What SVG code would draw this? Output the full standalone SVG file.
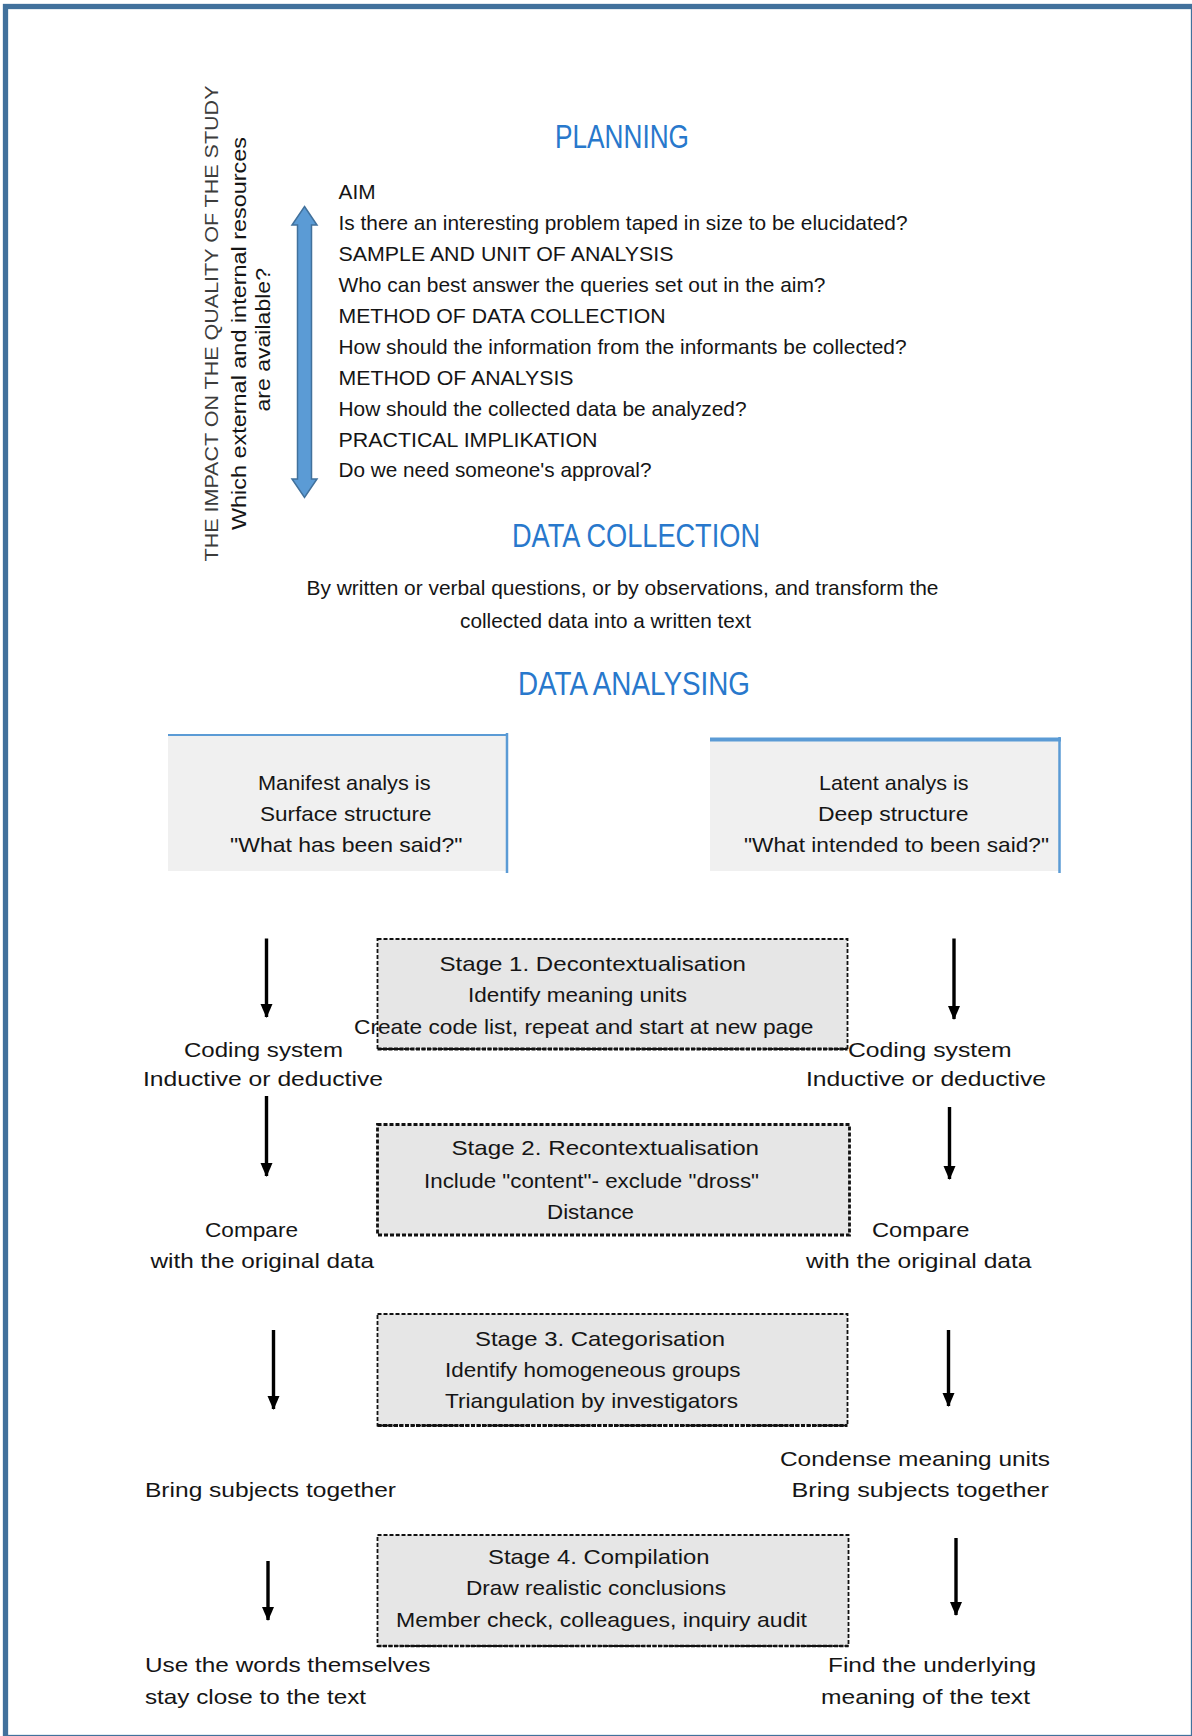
<svg xmlns="http://www.w3.org/2000/svg" width="1192" height="1736" viewBox="0 0 1192 1736">
  <defs>
    <style>
      .t { font-family: "Liberation Sans", Arial, sans-serif; font-size: 21px; fill: #151515; }
      .lbl { font-family: "Liberation Sans", Arial, sans-serif; font-size: 21px; fill: #151515; }
      .head { font-family: "Liberation Sans Narrow", "Liberation Sans", Arial, sans-serif; font-size: 33px; fill: #2878CC; }
      .side { font-family: "Liberation Sans", Arial, sans-serif; font-size: 18.5px; fill: #3c3c3c; }
      .side2 { font-family: "Liberation Sans", Arial, sans-serif; font-size: 21px; fill: #151515; }
      .anbox { fill: #F0F0F0; }
      .anedge { stroke: #5B9BD5; fill: none; }
      .stage { fill: #E6E6E6; stroke: #111; stroke-width: 1.8; stroke-dasharray: 4 2; }
      .stageheavy { stroke: #111; stroke-width: 3.2; stroke-dasharray: 4 1.5; fill: none; }
      .arrow { stroke: #000; stroke-width: 3.4; fill: none; marker-end: url(#head); }
    </style>
    <marker id="head" markerUnits="userSpaceOnUse" markerWidth="14" markerHeight="14" viewBox="0 0 14 13" refX="13" refY="6.5" orient="auto">
      <path d="M0,0.5 L14,6.5 L0,12.5 z" fill="#000"/>
    </marker>
  </defs>

  <rect width="1192" height="1736" fill="#fff"/>

  <!-- page frame -->
  <rect id="frame" x="5.5" y="6.5" width="1188" height="1731" fill="none" stroke="#41719C" stroke-width="5.3"/>

  <!-- planning heading and list -->
  <g id="planning-title">
    <text class="head" x="555" y="148" textLength="134" lengthAdjust="spacingAndGlyphs">PLANNING</text>
  </g>

  <g id="planning-list" class="t">
    <text x="338.5" y="199.3" textLength="37" lengthAdjust="spacingAndGlyphs">AIM</text>
    <text x="338.5" y="230.2" textLength="569" lengthAdjust="spacingAndGlyphs">Is there an interesting problem taped in size to be elucidated?</text>
    <text x="338.5" y="261.1" textLength="335" lengthAdjust="spacingAndGlyphs">SAMPLE AND UNIT OF ANALYSIS</text>
    <text x="338.5" y="292" textLength="487" lengthAdjust="spacingAndGlyphs">Who can best answer the queries set out in the aim?</text>
    <text x="338.5" y="322.9" textLength="327" lengthAdjust="spacingAndGlyphs">METHOD OF DATA COLLECTION</text>
    <text x="338.5" y="353.8" textLength="568" lengthAdjust="spacingAndGlyphs">How should the information from the informants be collected?</text>
    <text x="338.5" y="384.7" textLength="235" lengthAdjust="spacingAndGlyphs">METHOD OF ANALYSIS</text>
    <text x="338.5" y="415.6" textLength="408" lengthAdjust="spacingAndGlyphs">How should the collected data be analyzed?</text>
    <text x="338.5" y="446.5" textLength="259" lengthAdjust="spacingAndGlyphs">PRACTICAL  IMPLIKATION</text>
    <text x="338.5" y="477.4" textLength="313" lengthAdjust="spacingAndGlyphs">Do we need someone's approval?</text>
  </g>

  <!-- vertical notes beside the list -->
  <g id="side-notes">
    <text class="side" transform="translate(218,561.5) rotate(-90)" x="0" y="0" textLength="476" lengthAdjust="spacingAndGlyphs">THE IMPACT  ON THE QUALITY OF THE STUDY</text>
    <text class="side2" transform="translate(246,530) rotate(-90)" x="0" y="0" textLength="393" lengthAdjust="spacingAndGlyphs">Which external and internal resources</text>
    <text class="side2" transform="translate(270,411.5) rotate(-90)" x="0" y="0" textLength="143.5" lengthAdjust="spacingAndGlyphs">are available?</text>
  </g>

  <!-- double-headed block arrow -->
  <g id="scope-arrow">
    <polygon points="304.5,206.5 317,225 311.5,225 311.5,479 317,479 304.5,497.5 292,479 297.5,479 297.5,225 292,225" fill="#5B9BD5" stroke="#41719C" stroke-width="1.5" stroke-linejoin="miter"/>
  </g>

  <!-- data collection -->
  <g id="data-collection">
    <text class="head" x="512" y="546.5" textLength="248" lengthAdjust="spacingAndGlyphs">DATA COLLECTION</text>
    <text class="t" x="306.5" y="595" textLength="632" lengthAdjust="spacingAndGlyphs">By written or verbal questions, or by observations, and transform the</text>
    <text class="t" x="460" y="627.5" textLength="291" lengthAdjust="spacingAndGlyphs">collected data into a written text</text>
  </g>

  <!-- data analysing -->
  <g id="data-analysing">
    <text class="head" x="518" y="695" textLength="232" lengthAdjust="spacingAndGlyphs">DATA ANALYSING</text>
  </g>

  <!-- analysis types -->
  <g id="manifest">
    <rect class="anbox" x="168" y="734" width="340" height="137"/>
    <line class="anedge" x1="168" y1="735" x2="507" y2="735" stroke-width="2"/>
    <line class="anedge" x1="507" y1="733" x2="507" y2="873" stroke-width="2.5"/>
    <text class="lbl" x="258" y="790" textLength="172.5" lengthAdjust="spacingAndGlyphs">Manifest analys is</text>
    <text class="lbl" x="260" y="821" textLength="171.5" lengthAdjust="spacingAndGlyphs">Surface structure</text>
    <text class="lbl" x="230" y="852" textLength="232.5" lengthAdjust="spacingAndGlyphs">"What has been said?"</text>
  </g>

  <g id="latent">
    <rect class="anbox" x="710" y="738" width="350" height="133"/>
    <line class="anedge" x1="710" y1="739.5" x2="1061" y2="739.5" stroke-width="4"/>
    <line class="anedge" x1="1059.5" y1="737" x2="1059.5" y2="873" stroke-width="2.5"/>
    <text class="lbl" x="819" y="790" textLength="149.5" lengthAdjust="spacingAndGlyphs">Latent analys is</text>
    <text class="lbl" x="818" y="821" textLength="150.5" lengthAdjust="spacingAndGlyphs">Deep structure</text>
    <text class="lbl" x="744" y="852" textLength="305" lengthAdjust="spacingAndGlyphs">"What intended to been said?"</text>
  </g>

  <!-- stages -->
  <g id="stage-1">
    <rect class="stage" x="377.5" y="939" width="470" height="110"/>
    <line class="stageheavy" x1="377.5" y1="1049" x2="847.5" y2="1049"/>
    <text class="lbl" x="439.5" y="970.5" textLength="306.5" lengthAdjust="spacingAndGlyphs">Stage  1. Decontextualisation</text>
    <text class="lbl" x="468" y="1001.5" textLength="219" lengthAdjust="spacingAndGlyphs">Identify meaning units</text>
    <text class="lbl" x="354" y="1033.5" textLength="459.5" lengthAdjust="spacingAndGlyphs">Create code list, repeat and start at new page</text>
  </g>

  <g id="stage-2">
    <rect class="stage" x="377.5" y="1124.5" width="472" height="110.5" style="stroke-width:2.8"/>
    <text class="lbl" x="451.5" y="1155" textLength="307.5" lengthAdjust="spacingAndGlyphs">Stage  2. Recontextualisation</text>
    <text class="lbl" x="424" y="1187.5" textLength="335" lengthAdjust="spacingAndGlyphs">Include "content"- exclude "dross"</text>
    <text class="lbl" x="547" y="1218.5" textLength="87" lengthAdjust="spacingAndGlyphs">Distance</text>
  </g>

  <g id="stage-3">
    <rect class="stage" x="377.5" y="1314" width="470" height="111.5"/>
    <line class="stageheavy" x1="377.5" y1="1425.5" x2="847.5" y2="1425.5"/>
    <text class="lbl" x="475" y="1345.5" textLength="250" lengthAdjust="spacingAndGlyphs">Stage  3. Categorisation</text>
    <text class="lbl" x="445" y="1376.5" textLength="295.5" lengthAdjust="spacingAndGlyphs">Identify homogeneous  groups</text>
    <text class="lbl" x="445" y="1407.5" textLength="293" lengthAdjust="spacingAndGlyphs">Triangulation by investigators</text>
  </g>

  <g id="stage-4">
    <rect class="stage" x="377.5" y="1535" width="471" height="111"/>
    <line class="stageheavy" x1="377.5" y1="1646" x2="848.5" y2="1646" style="stroke-width:2.4"/>
    <text class="lbl" x="488" y="1563.5" textLength="221.5" lengthAdjust="spacingAndGlyphs">Stage  4. Compilation</text>
    <text class="lbl" x="466" y="1594.5" textLength="260" lengthAdjust="spacingAndGlyphs">Draw realistic conclusions</text>
    <text class="lbl" x="396" y="1626.5" textLength="411" lengthAdjust="spacingAndGlyphs">Member check, colleagues, inquiry audit</text>
  </g>

  <!-- manifest-side notes -->
  <g id="manifest-notes" class="lbl">
    <text x="184" y="1056.5" textLength="159" lengthAdjust="spacingAndGlyphs">Coding system</text>
    <text x="143" y="1085.5" textLength="240" lengthAdjust="spacingAndGlyphs">Inductive or deductive</text>
    <text x="205" y="1237" textLength="93" lengthAdjust="spacingAndGlyphs">Compare</text>
    <text x="150.5" y="1268" textLength="223.5" lengthAdjust="spacingAndGlyphs">with  the original data</text>
    <text x="145" y="1497" textLength="251" lengthAdjust="spacingAndGlyphs">Bring subjects together</text>
    <text x="145" y="1672" textLength="285.5" lengthAdjust="spacingAndGlyphs">Use the words  themselves</text>
    <text x="145" y="1704" textLength="221" lengthAdjust="spacingAndGlyphs">stay close to the text</text>
  </g>

  <!-- latent-side notes -->
  <g id="latent-notes" class="lbl">
    <text x="848" y="1056.5" textLength="163.5" lengthAdjust="spacingAndGlyphs">Coding system</text>
    <text x="806" y="1085.5" textLength="240" lengthAdjust="spacingAndGlyphs">Inductive or deductive</text>
    <text x="872" y="1237" textLength="97.5" lengthAdjust="spacingAndGlyphs">Compare</text>
    <text x="806" y="1268" textLength="225.5" lengthAdjust="spacingAndGlyphs">with the original data</text>
    <text x="780" y="1466" textLength="270" lengthAdjust="spacingAndGlyphs">Condense meaning units</text>
    <text x="791.5" y="1497" textLength="257.5" lengthAdjust="spacingAndGlyphs">Bring  subjects together</text>
    <text x="828" y="1672" textLength="208" lengthAdjust="spacingAndGlyphs">Find the underlying</text>
    <text x="821" y="1704" textLength="209" lengthAdjust="spacingAndGlyphs">meaning of the text</text>
  </g>

  <!-- flow arrows -->
  <g id="connectors">
    <line class="arrow" x1="266.5" y1="938.5" x2="266.5" y2="1017"/>
    <line class="arrow" x1="266.5" y1="1096" x2="266.5" y2="1176"/>
    <line class="arrow" x1="273.5" y1="1330" x2="273.5" y2="1409"/>
    <line class="arrow" x1="268" y1="1561" x2="268" y2="1620"/>
    <line class="arrow" x1="954" y1="938.5" x2="954" y2="1019"/>
    <line class="arrow" x1="949.5" y1="1107" x2="949.5" y2="1179"/>
    <line class="arrow" x1="948.5" y1="1330" x2="948.5" y2="1406"/>
    <line class="arrow" x1="956" y1="1538" x2="956" y2="1615"/>
  </g>
</svg>
